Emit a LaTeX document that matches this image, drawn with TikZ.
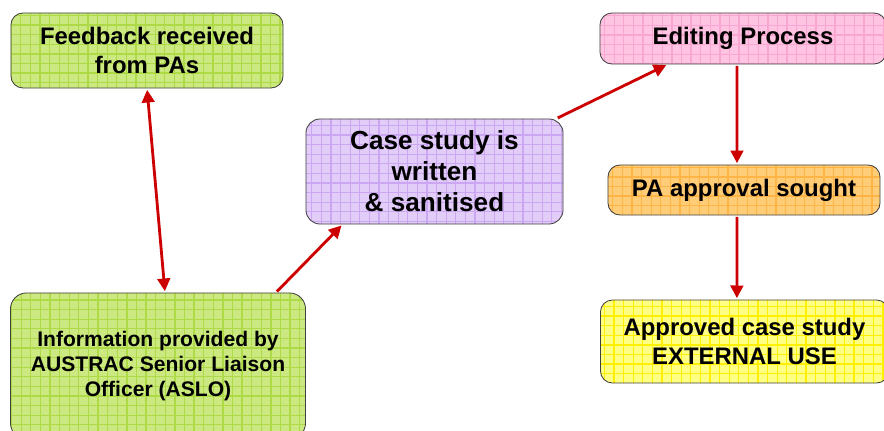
\documentclass[tikz,border=0pt]{standalone}
\usepackage{fontspec}
\setmainfont{Liberation Sans}
\usetikzlibrary{arrows.meta}
\definecolor{greenfill}{HTML}{CCE880}
\definecolor{greengrid}{HTML}{AEDA48}
\definecolor{purplefill}{HTML}{E2CCF8}
\definecolor{purplegrid}{HTML}{CBA6F2}
\definecolor{pinkfill}{HTML}{FFC4E2}
\definecolor{pinkgrid}{HTML}{F9A6D2}
\definecolor{orangefill}{HTML}{FFCC78}
\definecolor{orangegrid}{HTML}{FFB446}
\definecolor{yellowfill}{HTML}{FFFF84}
\definecolor{yellowgrid}{HTML}{FFF000}
\definecolor{arrowred}{HTML}{CC0000}
\tikzset{
  box/.style 2 args={draw=black!75, line width=0.6pt, rounded corners=0.3cm,
    fill=#1, align=center, inner sep=0pt,
    font=\bfseries\fontsize{17}{20}\selectfont,
    path picture={\draw[#2, line width=0.9pt]
      (path picture bounding box.south west) grid[step=0.24cm]
      (path picture bounding box.north east);}},
  flow/.style={draw=arrowred, line width=2pt, shorten <=1pt, shorten >=1pt,
    -{Triangle[length=9pt,width=9pt]}}
}
\begin{document}
\begin{tikzpicture}[x=0.025cm,y=-0.025cm]
  % Page frame
  \useasboundingbox (0,0) rectangle (884,431);
  % Boxes on the left
  \node[box={greenfill}{greengrid}, minimum width=6.8cm, minimum height=1.875cm]
    (feedback) at (147,50.5) {Feedback received\\from PAs};
  \node[box={greenfill}{greengrid}, minimum width=7.375cm, minimum height=3.65cm,
    rounded corners=0.4cm, font=\bfseries\fontsize{15}{17.5}\selectfont]
    (info) at (158,366) {Information provided by\\AUSTRAC Senior Liaison\\Officer (ASLO)};
  % Box in the middle
  \node[box={purplefill}{purplegrid}, minimum width=6.425cm, minimum height=2.625cm,
    rounded corners=0.35cm, font=\bfseries\fontsize{18.6}{22}\selectfont]
    (casestudy) at (434.5,171.5) {Case study is\\written\\\& sanitised};
  % Boxes on the right
  \node[box={pinkfill}{pinkgrid}, minimum width=7.15cm, minimum height=1.275cm]
    (editing) at (743,38.5) {Editing Process};
  \node[box={orangefill}{orangegrid}, minimum width=6.8cm, minimum height=1.25cm]
    (approval) at (744,190) {PA approval sought};
  \node[box={yellowfill}{yellowgrid}, minimum width=7.2cm, minimum height=2.075cm]
    (approved) at (744.5,341.5) {Approved case study\\EXTERNAL USE};
  % Draw the arrows
  \draw[flow, {Triangle[length=9pt,width=9pt]}-{Triangle[length=9pt,width=9pt]}]
    (feedback.south) -- ([xshift=0.175cm]info.north);
  \draw[flow] ([xshift=-0.75cm]info.north east) -- ([xshift=0.925cm]casestudy.south west);
  \draw[flow] ([xshift=-0.175cm]casestudy.north east) -- ([xshift=1.7cm]editing.south west);
  \draw[flow] ([xshift=-0.15cm]editing.south) -- ([xshift=-0.175cm]approval.north);
  \draw[flow] ([xshift=-0.175cm]approval.south) -- ([xshift=-0.19cm]approved.north);
\end{tikzpicture}
\end{document}
